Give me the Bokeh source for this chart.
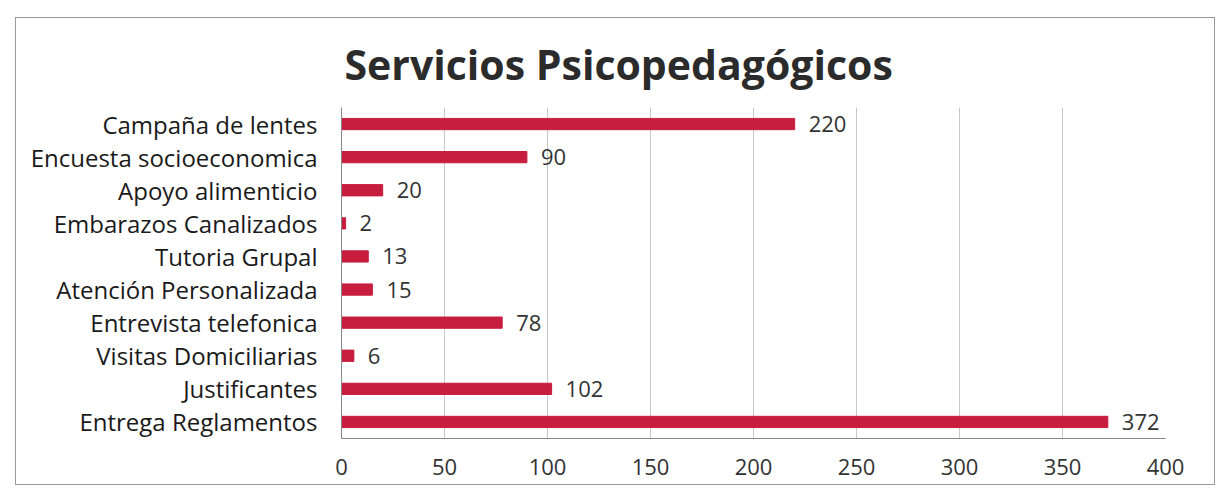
from bokeh.plotting import figure
from bokeh.models import ColumnDataSource, FactorRange, Range1d, FixedTicker, LabelSet
from bokeh.core.properties import value
from bokeh.embed import file_html
from bokeh.resources import INLINE

categories = ["Entrega Reglamentos", "Justificantes", "Visitas Domiciliarias",
              "Entrevista telefonica", "Atención Personalizada", "Tutoria Grupal",
              "Embarazos Canalizados", "Apoyo alimenticio", "Encuesta socioeconomica",
              "Campaña de lentes"]
values = [372, 102, 6, 78, 15, 13, 2, 20, 90, 220]
x_ticks = [0, 50, 100, 150, 200, 250, 300, 350, 400]

src = ColumnDataSource(dict(cat=categories, val=values, lab=[str(v) for v in values]))

FONT = "Open Sans"
p = figure(width=1200, height=468, output_backend="svg", toolbar_location=None,
           y_range=FactorRange(*categories, range_padding=0.0), x_range=Range1d(0, 400),
           title="Servicios Psicopedagógicos",
           min_border_left=325, min_border_right=51, min_border_top=88, min_border_bottom=48)
p.title.text_font = FONT
p.title.text_font_size = "41px"
p.title.text_font_style = "bold"
p.title.text_color = "#2b2b2b"
p.title.align = "left"
p.title.offset = 3
p.title.standoff = 31

p.hbar(y="cat", right="val", height=0.34, left=0, source=src, color="#C71D3F")
p.add_layout(LabelSet(x="val", y="cat", text="lab", source=src, x_offset=14, y_offset=0,
                      text_baseline="middle", text_font=value(FONT), text_font_size="22px",
                      text_color="#333333"))

p.xaxis.ticker = FixedTicker(ticks=x_ticks)
p.xaxis.major_tick_line_color = None
p.xaxis.minor_tick_line_color = None
p.xaxis.major_label_standoff = 14
p.xaxis.major_label_text_font = FONT
p.xaxis.major_label_text_font_size = "22px"
p.xaxis.major_label_text_color = "#333333"
p.xaxis.axis_line_color = "#888888"

p.yaxis.major_tick_line_color = None
p.yaxis.minor_tick_line_color = None
p.yaxis.major_label_standoff = 18
p.yaxis.major_label_text_font = FONT
p.yaxis.major_label_text_font_size = "24px"
p.yaxis.major_label_text_color = "#1a1a1a"
p.yaxis.axis_line_color = "#888888"

p.xgrid.ticker = FixedTicker(ticks=x_ticks)
p.xgrid.grid_line_color = "#c8c8c8"
p.ygrid.grid_line_color = None
p.outline_line_color = None
p.styles = {"border": "1px solid #9a9a9a", "margin-left": "15px", "margin-top": "17px"}

open("out.html", "w").write(file_html(p, INLINE))
